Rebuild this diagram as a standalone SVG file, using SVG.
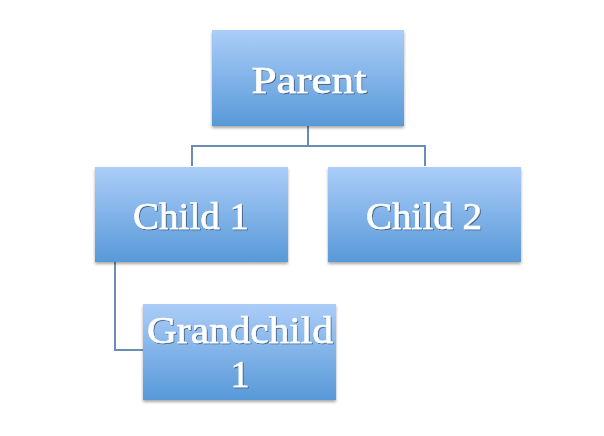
<svg xmlns="http://www.w3.org/2000/svg" width="604" height="436" viewBox="0 0 604 436">
<defs>
<linearGradient id="g" x1="0" y1="0" x2="0" y2="1">
<stop offset="0" stop-color="#abcdf8"/>
<stop offset="1" stop-color="#5899d8"/>
</linearGradient>
<filter id="sh" x="-10%" y="-10%" width="120%" height="130%">
<feGaussianBlur in="SourceAlpha" stdDeviation="1.5"/>
<feOffset dx="0" dy="2" result="b"/>
<feComponentTransfer><feFuncA type="linear" slope="0.35"/></feComponentTransfer>
<feMerge><feMergeNode/><feMergeNode in="SourceGraphic"/></feMerge>
</filter>
<filter id="ts" x="-5%" y="-20%" width="110%" height="140%">
<feGaussianBlur in="SourceAlpha" stdDeviation="0.6"/>
<feOffset dx="0.8" dy="1" result="b"/>
<feComponentTransfer><feFuncA type="linear" slope="0.45"/></feComponentTransfer>
<feMerge><feMergeNode/><feMergeNode in="SourceGraphic"/></feMerge>
</filter>
</defs>
<style>
.box{fill:url(#g);filter:url(#sh)}
.lbl{font-family:"Liberation Serif","Times New Roman",serif;font-size:38px;fill:#ffffff;stroke:#ffffff;stroke-width:0.6;text-anchor:middle;filter:url(#ts)}
.con{fill:none;stroke:#6b8db3;stroke-width:2}
</style>
<rect width="604" height="436" fill="#ffffff"/>
<g id="connectors">
<path class="con" d="M308 126 V146 M192 166 V146 H425 V166"/>
<path class="con" d="M115 262 V350 H143"/>
</g>
<g id="parent">
<rect class="box" x="212" y="30" width="192" height="96"/>
<text class="lbl" x="309" y="93" textLength="115" lengthAdjust="spacingAndGlyphs">Parent</text>
</g>
<g id="child1">
<rect class="box" x="95" y="167" width="193" height="95"/>
<text class="lbl" x="191" y="229" textLength="116" lengthAdjust="spacingAndGlyphs">Child 1</text>
</g>
<g id="child2">
<rect class="box" x="328" y="167" width="193" height="95"/>
<text class="lbl" x="424" y="229" textLength="116" lengthAdjust="spacingAndGlyphs">Child 2</text>
</g>
<g id="grandchild1">
<rect class="box" x="143" y="304" width="193" height="96"/>
<text class="lbl" x="240" y="343" textLength="186" lengthAdjust="spacingAndGlyphs">Grandchild</text>
<text class="lbl" x="240" y="387">1</text>
</g>
</svg>
